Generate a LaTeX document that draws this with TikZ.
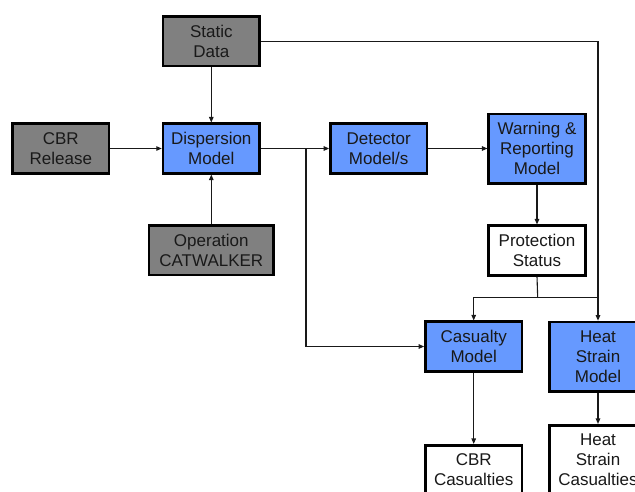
\documentclass[tikz,border=0pt]{standalone}
\usepackage{fontspec}
\setmainfont{Liberation Sans}
\usetikzlibrary{arrows.meta}
\definecolor{boxgray}{HTML}{808080}
\definecolor{boxblue}{HTML}{6699FF}
\begin{document}
\begin{tikzpicture}[x=1pt,y=1pt,
  base/.style={draw=black, line width=2.6pt, align=center, inner sep=0pt,
    font=\fontsize{17}{20}\selectfont, text=black!90,
    minimum width=96.5pt, minimum height=49.5pt},
  gbox/.style={base, fill=boxgray},
  bbox/.style={base, fill=boxblue},
  wbox/.style={base, fill=white},
  tall/.style={minimum height=69.5pt},
  conn/.style={line width=1.1pt, draw=black!90},
  arr/.style={conn, -{Triangle[length=5.5pt,width=4.5pt]}}
]
\useasboundingbox (0,0) rectangle (635,-491);
\clip (0,0) rectangle (635,-491);
\fill[white] (0,0) rectangle (635,-491);

\node[gbox] (static) at (211.3,-41.3) {Static\\Data};
\node[gbox] (cbr) at (60.8,-148.5) {CBR\\Release};
\node[bbox] (disp) at (211.3,-148.5) {Dispersion\\Model};
\node[gbox, minimum width=124.8pt] (op) at (211.3,-250.2) {Operation\\CATWALKER};
\node[bbox] (det) at (378.7,-148.5) {Detector\\Model/s};
\node[bbox, tall] (warn) at (537,-148.8) {Warning \&\\Reporting\\Model};
\node[wbox] (prot) at (537,-250.5) {Protection\\Status};
\node[bbox] (cas) at (473.7,-346.5) {Casualty\\Model};
\node[bbox, tall] (hsm) at (598,-356.7) {Heat\\Strain\\Model};
\node[wbox] (cbrcas) at (473.7,-470) {CBR\\Casualties};
\node[wbox, tall] (hscas) at (598,-460) {Heat\\Strain\\Casualties};

\coordinate (b) at (306,-148.5);
\coordinate (j) at (537.7,-297.7);

\draw[arr] (static.south) -- (disp.north);
\draw[arr] (cbr.east) -- (disp.west);
\draw[arr] (op.north) -- (disp.south);
\draw[arr] (disp.east) -- (det.west);
\draw[arr] (b) |- (cas.west);
\draw[arr] (det.east) -- (det.east -| warn.west);
\draw[arr] (warn.south) -- (prot.north);
\draw[arr] (static.east) -| (hsm.north);
\draw[conn] (prot.south) -- (j);
\draw[arr] (j) -| (cas.north);
\draw[conn] (j) -- (j -| hsm.north);
\draw[arr] (cas.south) -- (cbrcas.north);
\draw[arr] (hsm.south) -- (hscas.north);
\end{tikzpicture}
\end{document}
